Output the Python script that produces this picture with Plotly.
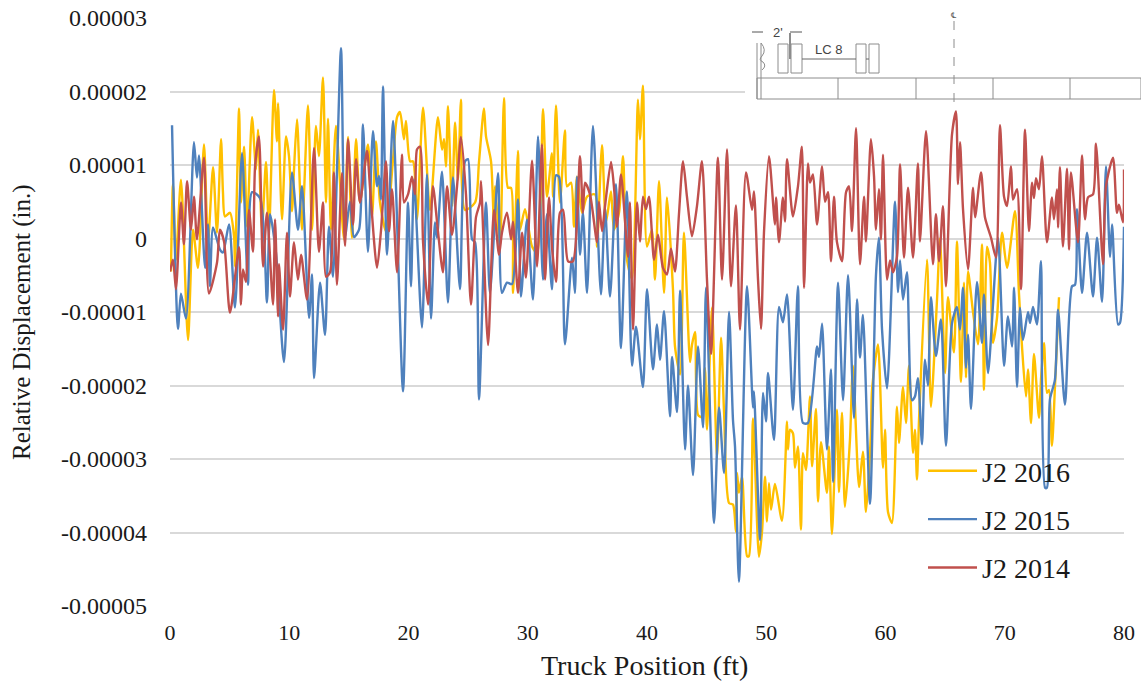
import plotly.graph_objects as go

# displacement values are in units of 1e-5 in.
x_2016 = [0.08,0.25,0.50,0.92,1.51,1.93,2.35,2.85,3.19,3.61,3.94,4.28,4.44,4.61,5.03,5.37,5.45,5.79,5.95,6.21,6.46,6.88,7.21,7.38,7.71,8.05,8.30,8.72,8.97,9.06,9.39,9.73,9.98,10.23,10.40,10.65,11.07,11.57,11.91,12.24,12.49,12.83,13.08,13.25,13.50,13.92,14.59,14.93,15.26,15.60,15.93,16.60,16.94,17.27,17.61,18.11,18.70,19.04,19.29,19.62,19.79,20.13,20.38,20.71,21.22,21.80,22.47,22.81,22.98,23.14,23.31,23.65,23.90,24.15,24.40,24.74,25.58,25.91,26.33,26.50,26.92,27.17,27.25,27.67,28.01,28.34,28.60,28.76,29.18,29.35,29.77,30.36,30.78,31.28,31.61,32.03,32.12,32.37,32.70,33.12,33.29,33.63,33.88,34.13,34.55,34.97,35.64,35.81,36.23,36.56,36.98,37.23,37.65,37.99,38.32,38.74,39.24,39.41,39.66,40.00,40.42,40.67,41.01,41.43,41.68,42.18,42.35,42.77,43.10,43.61,43.77,44.03,44.28,44.61,44.86,45.03,45.45,45.87,46.21,46.46,46.88,47.21,47.46,47.55,47.71,47.97,48.39,48.55,48.89,49.39,49.64,49.90,50.06,50.23,50.40,50.73,51.32,51.74,51.82,51.99,52.24,52.41,52.66,52.91,53.08,53.33,53.67,53.84,54.17,54.34,54.59,55.09,55.26,55.51,55.93,56.10,56.35,56.60,57.02,57.27,57.78,58.11,58.36,58.78,58.87,59.37,59.79,59.96,60.21,60.54,60.96,61.13,61.47,61.72,61.97,62.31,62.47,62.64,62.81,63.48,63.81,64.32,64.57,64.99,65.24,65.74,65.99,66.33,66.58,66.75,66.92,67.34,67.76,68.09,68.26,68.51,68.76,69.01,69.35,69.77,70.19,70.86,71.19,71.45,71.78,71.95,72.20,72.45,72.87,73.04,73.29,73.54,73.71,73.96,74.21,74.55]
y_2016 = [-0.45,0.74,-0.29,0.80,-1.38,0.12,-0.40,1.28,-0.05,0.97,0.08,1.35,0.63,0.30,0.35,0.03,-0.38,1.77,0.49,1.25,0.16,1.65,0.94,1.48,0.12,1.04,0.08,2.02,1.32,1.84,0.26,1.39,1.12,0.37,0.94,1.62,0.12,1.81,0.12,1.53,1.12,2.19,0.49,1.63,0.12,1.53,-0.01,1.38,0.01,1.35,0.49,1.28,0.30,1.32,0.49,0.10,1.07,1.65,1.72,1.35,1.60,1.05,1.05,0.26,1.78,0.39,1.65,1.21,1.35,0.98,1.80,0.44,1.58,0.80,1.89,0.39,0.49,1.04,1.77,1.39,1.05,0.16,0.71,-0.11,1.91,0.69,0.69,-0.74,1.19,0.12,0.40,-0.11,-0.20,1.76,0.57,1.16,0.57,1.81,0.49,1.47,0.71,0.76,0.16,0.84,0.35,0.57,0.60,-0.11,1.27,0.22,0.64,0.12,0.35,1.12,-0.29,-0.55,1.89,1.35,2.08,-0.11,0.12,-0.56,0.78,-0.74,0.56,-0.70,-1.47,-1.85,0.08,-1.68,-1.45,-1.27,-2.40,-2.43,-1.76,-2.60,-0.94,-2.98,-1.35,-2.36,-3.60,-3.62,-3.99,-3.19,-3.46,-3.24,-4.32,-4.32,-2.45,-4.33,-4.00,-3.24,-3.85,-3.33,-3.69,-3.34,-3.84,-2.49,-2.87,-2.60,-2.65,-3.12,-2.83,-3.96,-2.92,-3.15,-2.15,-3.10,-2.32,-3.58,-2.77,-3.46,-2.83,-4.02,-2.33,-3.45,-2.37,-3.65,-2.74,-1.73,-3.38,-2.90,-3.72,-2.64,-2.06,-1.44,-3.12,-2.60,-3.72,-3.87,-2.29,-2.78,-2.02,-2.51,-1.73,-2.92,-2.60,-3.28,-2.47,-0.29,-2.29,-0.83,0.00,-1.83,-0.80,-1.55,-0.04,-1.95,-0.60,-1.89,-0.45,-1.00,-1.44,-0.08,-2.06,-0.11,-0.33,-1.42,-1.08,0.08,-0.40,0.37,-0.74,-1.48,-2.15,-1.78,-2.51,-1.57,-2.44,-1.92,-1.42,-2.10,-2.06,-2.82,-2.02,-0.80]

x_2015 = [0.17,0.67,0.92,1.34,2.01,2.26,2.43,2.94,3.19,3.35,3.61,4.19,4.44,4.95,5.45,6.04,6.54,6.88,7.55,8.13,8.39,8.89,9.56,10.23,10.73,11.07,11.66,11.91,12.08,12.58,13.00,13.33,13.67,14.34,14.68,15.09,15.43,15.85,16.18,16.60,17.02,17.36,17.53,17.69,17.86,18.20,18.70,19.54,19.96,20.21,20.46,21.13,21.55,21.89,22.22,22.39,22.81,23.31,23.73,24.32,24.74,24.99,25.33,25.58,25.91,26.50,26.83,27.51,27.84,28.26,28.68,29.18,29.43,29.94,30.44,30.86,31.28,31.61,32.03,32.37,32.62,33.12,33.71,33.96,34.13,34.38,34.63,34.97,35.47,36.14,36.48,36.90,37.40,37.82,38.32,38.74,39.08,39.66,40.00,40.50,40.84,41.09,41.43,41.93,42.10,42.52,42.77,43.19,43.44,43.86,44.28,44.70,44.95,45.62,46.04,46.46,46.88,47.21,47.38,47.71,48.39,48.89,48.97,49.48,49.73,49.98,50.15,50.65,51.07,51.40,51.74,52.24,52.66,53.08,53.50,54.26,54.42,54.68,55.09,55.43,55.60,56.02,56.44,56.86,57.36,57.61,57.86,58.11,58.70,59.20,59.45,59.71,60.13,60.80,61.05,61.22,61.47,61.80,62.22,62.47,62.72,63.06,63.31,63.56,63.81,64.23,64.65,65.07,65.58,65.99,66.25,66.50,66.75,66.92,67.17,67.67,68.09,68.26,68.60,69.43,69.94,70.27,70.61,70.78,71.03,71.28,71.53,71.95,72.12,72.37,72.70,73.04,73.38,73.54,73.79,74.21,74.47,75.05,75.64,75.89,76.06,76.48,76.90,77.40,77.74,78.16,78.49,78.83,79.00,79.50,79.66,80.00]
y_2015 = [1.54,-1.23,-0.75,-1.09,1.31,0.83,1.13,-0.40,0.19,-0.65,0.15,-0.15,-0.19,0.19,-0.94,1.16,-0.63,0.63,0.55,-0.87,0.33,-0.20,-1.68,0.90,0.12,0.71,-1.08,-0.49,-1.90,-0.60,-1.31,0.16,-0.52,2.59,0.03,0.50,0.02,0.12,1.55,-0.18,1.46,0.71,0.85,0.53,2.07,-0.22,1.60,-2.08,0.49,-0.65,0.80,-1.21,0.87,-1.09,0.22,0.01,0.91,-0.87,0.83,-0.69,1.05,1.08,-0.01,-0.05,-2.19,0.49,-0.74,0.89,-0.74,-0.60,-0.62,0.53,-0.79,0.26,-0.83,1.39,-0.56,0.33,-0.69,0.86,0.84,-1.44,-0.26,-0.74,0.84,-0.22,0.35,-0.74,1.53,-0.76,0.42,-0.79,0.74,-1.49,0.64,-1.73,-1.20,-2.02,-0.69,-1.78,-1.17,-1.65,-0.99,-2.42,-1.61,-2.36,-0.71,-2.87,-2.00,-3.22,-1.47,-2.57,-0.67,-3.87,-2.30,-3.19,-1.00,-2.47,-2.83,-4.67,-0.65,-2.30,-2.08,-4.10,-2.10,-2.49,-1.83,-2.74,-0.93,-1.14,-0.76,-2.33,-0.65,-2.51,-2.51,-1.47,-1.61,-1.16,-2.87,-1.78,-3.31,-0.60,-2.20,-0.50,-2.44,-0.83,-1.62,-1.04,-3.61,-0.50,0.01,-1.24,-2.04,0.50,-0.73,-0.30,-0.83,-0.46,-2.20,-2.15,-1.90,-2.80,-1.65,-2.00,-0.80,-1.60,-1.10,-2.82,-1.15,-0.93,-1.24,-0.67,-1.76,-1.31,-2.32,-0.59,-1.42,-0.76,-1.83,0.01,-1.73,-1.06,-1.47,-0.67,-2.02,-0.94,-1.38,-1.00,-1.15,-0.93,-1.17,-0.31,-3.39,-3.39,-2.19,-1.92,-0.97,-2.26,-0.65,-0.63,0.40,-0.74,0.08,-0.79,0.01,-0.86,0.98,-0.25,0.19,-1.17,-1.15,0.16]

x_2014 = [0.00,0.25,0.50,0.92,1.17,1.43,1.76,2.01,2.26,2.85,3.27,3.94,4.19,4.53,5.03,5.79,5.95,6.12,6.37,6.62,6.96,7.13,7.46,7.80,8.13,8.64,8.81,9.06,9.14,9.48,9.81,10.06,10.40,10.73,10.99,11.49,12.08,12.49,12.83,13.08,13.42,13.75,14.00,14.42,14.68,14.93,15.35,15.60,15.93,16.52,16.77,17.36,17.69,18.11,18.37,18.62,19.04,19.45,19.62,19.96,20.29,20.55,20.71,20.96,21.22,21.64,22.05,22.47,22.89,23.23,23.65,24.07,24.40,24.82,25.24,25.66,26.00,26.08,26.67,27.17,27.59,27.84,28.26,28.60,28.76,29.18,29.52,29.85,30.36,30.78,31.19,31.45,31.78,32.03,32.37,32.70,32.96,33.38,33.79,34.38,34.63,34.80,35.22,35.81,35.97,36.23,36.48,36.98,37.23,37.48,37.82,38.41,38.57,38.83,39.16,39.41,39.66,39.91,40.17,40.59,40.92,41.34,41.68,42.01,42.35,42.68,43.02,43.35,43.77,44.19,44.61,45.03,45.37,45.95,46.29,46.71,47.04,47.46,47.80,48.30,48.81,48.97,49.31,49.56,49.81,50.23,50.73,50.82,51.07,51.40,51.57,51.74,52.24,52.66,52.99,53.17,53.50,53.67,53.92,54.26,54.68,54.93,55.18,55.43,55.68,55.93,56.35,56.69,56.94,57.19,57.53,57.86,58.20,58.36,58.78,59.04,59.20,59.45,59.62,59.79,60.13,60.38,60.63,60.96,61.22,61.55,61.89,62.31,62.72,62.89,63.40,63.98,64.23,64.49,64.82,65.07,65.58,65.91,66.08,66.25,66.50,66.92,67.34,67.51,68.01,68.34,68.85,69.27,69.60,69.94,70.19,70.53,70.69,71.03,71.36,71.70,72.03,72.29,72.45,72.62,72.87,73.12,73.54,73.96,74.13,74.38,74.47,74.63,74.88,75.22,75.39,75.55,76.14,76.48,76.73,76.98,77.40,77.65,78.24,78.49,79.08,79.41,79.58,79.92,80.00]
y_2014 = [-0.45,-0.29,-0.69,0.49,-0.08,0.78,0.12,0.57,-0.01,1.10,-0.75,-0.33,0.12,-0.04,-1.01,-0.12,-0.90,-0.42,-0.59,0.39,-0.18,0.97,1.39,-0.38,0.35,-0.90,0.26,-1.06,-0.35,-1.24,0.08,-0.79,-0.05,-0.56,-0.22,-0.83,1.23,-0.18,0.49,-0.52,-0.46,0.90,-0.63,0.89,-0.10,1.35,0.19,1.08,0.49,1.19,0.70,-0.40,0.10,1.05,0.10,0.67,-0.46,1.14,0.49,0.60,0.84,0.60,1.21,1.25,-0.05,-0.90,0.71,0.10,-0.46,0.71,0.05,0.71,1.38,0.60,-0.90,0.29,0.49,0.78,-1.45,0.39,-0.22,0.08,0.35,-0.01,0.23,-0.74,0.08,-0.53,1.06,-0.38,1.28,-0.56,0.56,-0.11,-0.59,0.35,0.39,-0.31,-0.31,1.12,0.35,0.76,0.60,-0.05,0.50,0.10,0.44,1.04,0.70,0.16,0.87,-0.25,0.49,-1.24,0.49,-0.04,0.57,0.40,0.57,-0.29,0.05,-0.40,-0.49,-0.14,-0.45,0.33,1.05,0.57,0.03,0.44,1.05,-0.56,-1.57,1.10,-0.56,1.21,-0.65,0.45,-1.24,0.90,0.39,0.64,-0.56,-1.23,0.08,1.12,0.19,0.56,-0.05,0.56,0.23,1.08,0.30,0.71,1.25,-0.67,1.02,0.76,0.87,0.19,0.98,0.50,0.63,-0.31,0.57,-0.05,-0.31,0.63,0.71,0.10,1.50,-0.35,0.57,-0.04,1.35,0.84,0.12,0.67,-0.01,1.14,-0.56,-0.30,-0.46,-0.25,1.01,-0.26,0.69,-0.26,1.02,-0.04,1.46,-0.35,0.33,-0.31,0.44,-0.65,1.42,1.73,0.74,1.31,0.40,-0.42,0.69,0.29,0.90,0.29,0.01,-0.26,1.54,0.57,0.44,0.98,0.53,0.67,-0.69,1.48,0.10,0.76,0.55,0.82,0.67,1.12,-0.05,0.56,0.26,0.67,0.15,0.97,-0.11,0.95,-0.15,0.90,-0.05,1.13,0.26,0.56,0.60,1.29,-0.35,0.71,1.10,0.35,0.46,0.22,0.94]

series_names = ["J2 2016", "J2 2015", "J2 2014"]
x_ticks = [0, 10, 20, 30, 40, 50, 60, 70, 80]
y_ticks = [-5, -4, -3, -2, -1, 0, 1, 2, 3]
y_tick_labels = ["-0.00005", "-0.00004", "-0.00003", "-0.00002", "-0.00001", "0", "0.00001", "0.00002", "0.00003"]

W, H = 1141, 685
L, R, T, B = 170, 1124, 18, 606
SERIF = "Liberation Serif"
GREY = "#8c8c8c"


def px(x):
    return (x - L) / (R - L)


def py(y):
    return (B - y) / (B - T)


def rect(x0, y0, x1, y1, **kw):
    return dict(type="rect", xref="paper", yref="paper", x0=px(x0), x1=px(x1), y0=py(y0), y1=py(y1), **kw)


def seg(x0, y0, x1, y1, color=GREY, width=1, dash="solid"):
    return dict(type="line", xref="paper", yref="paper", x0=px(x0), x1=px(x1), y0=py(y0), y1=py(y1),
                line=dict(color=color, width=width, dash=dash))


fig = go.Figure()
for name, xs, ys, col in [
    (series_names[0], x_2016, y_2016, "#FFC000"),
    (series_names[1], x_2015, y_2015, "#4F81BD"),
    (series_names[2], x_2014, y_2014, "#C0504D"),
]:
    fig.add_trace(go.Scatter(
        x=xs, y=[v * 1e-5 for v in ys], name=name, mode="lines", legendgroup=name,
        line=dict(color=col, width=2.4, shape="spline", smoothing=0.7),
    ))

# bridge sketch in the top right corner
shapes = [rect(745, 0, 1145, 101, fillcolor="white", line_width=0, layer="above")]
shapes.append(rect(757, 78, 1141, 99, line=dict(color=GREY, width=1), layer="above"))
for vx in [761, 838, 916, 993, 1070]:
    shapes.append(seg(vx, 78, vx, 99))
shapes.append(seg(757, 43, 757, 99))
shapes.append(seg(761, 43, 761, 78))
shapes.append(dict(type="path", xref="paper", yref="paper", line=dict(color=GREY, width=1),
                   path="M %f,%f Q %f,%f %f,%f Q %f,%f %f,%f Q %f,%f %f,%f" % (
                       px(761), py(43), px(767), py(50), px(762), py(56), px(758), py(60), px(763), py(62),
                       px(767), py(66), px(762), py(70))))
for x0, x1 in [(778, 788), (791, 802), (856, 866), (869, 879)]:
    shapes.append(rect(x0, 44, x1, 73, line=dict(color=GREY, width=1)))
shapes.append(seg(802, 59, 856, 59, color="#666666"))
shapes.append(seg(866, 59, 869, 59, color="#666666"))
shapes.append(seg(790, 33, 790, 59, width=2))
shapes.append(seg(752, 32, 763, 32, color="#555555"))
shapes.append(seg(790, 32, 802, 32, color="#555555"))
shapes.append(seg(954, 21, 954, 108, dash="dash"))

annotations = [
    dict(text="2'", x=px(778), y=py(33), font=dict(family="Liberation Sans", size=13, color="#444444")),
    dict(text="LC 8", x=px(828), y=py(49), font=dict(family="Liberation Sans", size=13, color="#444444")),
    dict(text="℄", x=px(954), y=py(15), font=dict(family="DejaVu Sans", size=8, color="#555555")),
    dict(text="Truck Position (ft)", x=px(644), y=py(666), font=dict(family=SERIF, size=28, color="#1a1a1a")),
    dict(text="Relative Displacement (in.)", x=px(22), y=py(322), textangle=-90,
         font=dict(family=SERIF, size=25, color="#1a1a1a")),
]
for a in annotations:
    a.update(xref="paper", yref="paper", showarrow=False, xanchor="center", yanchor="middle")

fig.update_layout(
    width=W, height=H, autosize=False,
    margin=dict(l=L, r=W - R, t=T, b=H - B, autoexpand=False),
    paper_bgcolor="white", plot_bgcolor="white",
    font=dict(family=SERIF, color="#1a1a1a"),
    shapes=shapes, annotations=annotations,
    legend=dict(x=px(923), y=py(446), xanchor="left", yanchor="top", bgcolor="rgba(0,0,0,0)",
                font=dict(family=SERIF, size=28), itemwidth=49, tracegroupgap=9),
    xaxis=dict(range=[0, 80], tickvals=x_ticks, showgrid=False, zeroline=False, showline=False,
               tickfont=dict(size=22), ticks="", automargin=False, ticklabelstandoff=11),
    yaxis=dict(range=[-5e-5, 3e-5], tickvals=[t * 1e-5 for t in y_ticks], ticktext=y_tick_labels,
               showgrid=True, gridcolor="#d9d9d9", gridwidth=1.5, zeroline=False, showline=False,
               tickfont=dict(size=24), ticks="", automargin=False, ticklabelstandoff=22),
)

fig.write_html("out.html", post_script="document.body.style.margin='0';", config=dict(displayModeBar=False))
